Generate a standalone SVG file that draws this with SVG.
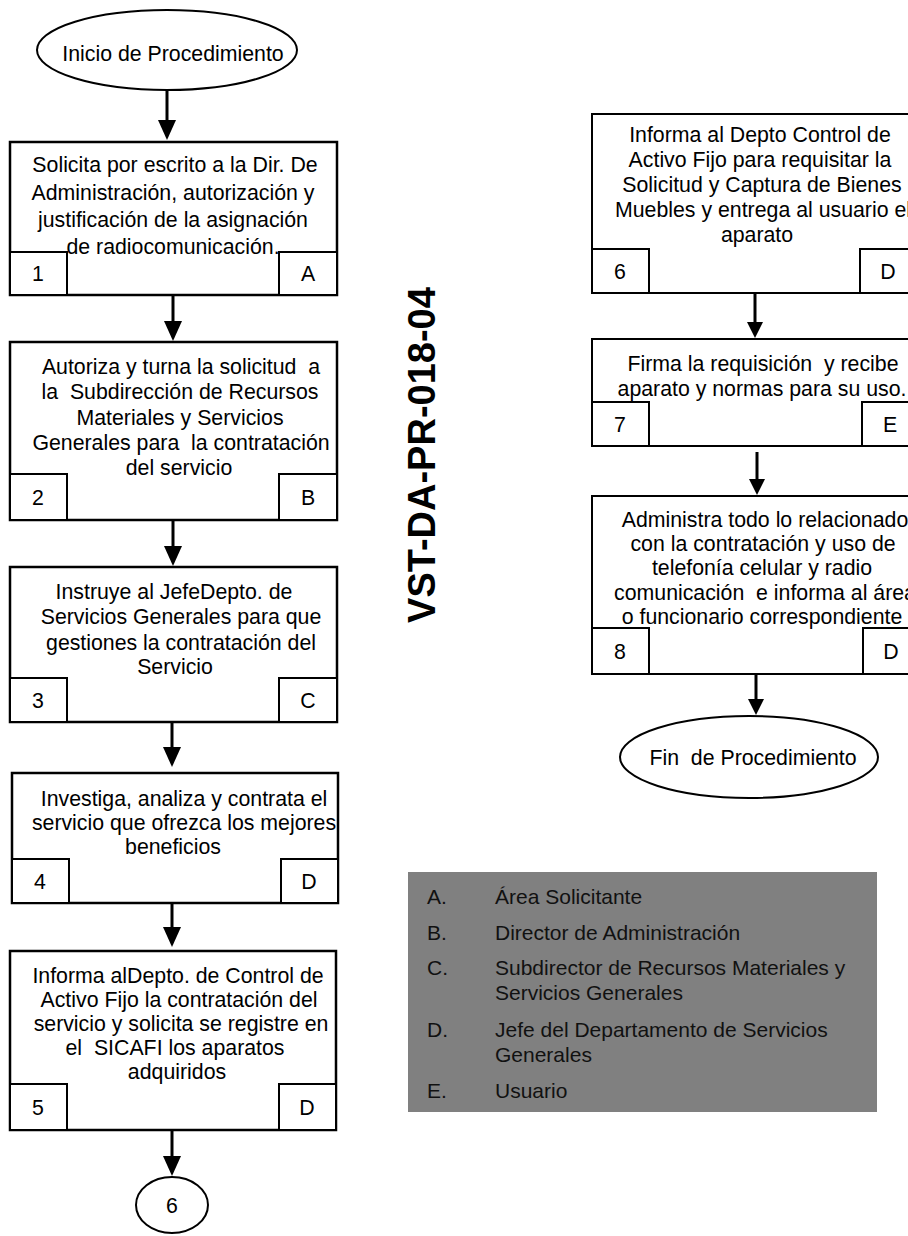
<svg xmlns="http://www.w3.org/2000/svg" width="908" height="1236" viewBox="0 0 908 1236">
<style>
.bx{fill:#fff;stroke:#000;stroke-width:2.5}
.bxr{fill:#fff;stroke:#000;stroke-width:2}
.sm{fill:#fff;stroke:#000;stroke-width:2}
.t{font-family:"Liberation Sans",Arial,sans-serif;font-size:21.3px;fill:#000;text-anchor:middle;white-space:pre}
.lg{font-family:"Liberation Sans",Arial,sans-serif;font-size:21px;fill:#111;white-space:pre}
.cn{stroke:#000;stroke-width:3;fill:none}
.code{font-family:"Liberation Sans",Arial,sans-serif;font-size:38px;font-weight:bold;fill:#000;text-anchor:middle}
</style>
<defs>
<marker id="arr" markerUnits="userSpaceOnUse" markerWidth="20" markerHeight="18" viewBox="0 0 20 18" refX="8" refY="9" orient="auto"><path d="M0,0 L20,9 L0,18 z" fill="#000"/></marker>
<marker id="arrS" markerUnits="userSpaceOnUse" markerWidth="16" markerHeight="16" viewBox="0 0 16 16" refX="6" refY="8" orient="auto"><path d="M0,0 L16,8 L0,16 z" fill="#000"/></marker>
</defs>
<rect width="908" height="1236" fill="#fff"/>

<g id="connectors">
<line class="cn" x1="167" y1="91" x2="167" y2="128" marker-end="url(#arr)"/>
<line class="cn" x1="173" y1="296" x2="173" y2="329" marker-end="url(#arr)"/>
<line class="cn" x1="173" y1="521" x2="173" y2="554" marker-end="url(#arr)"/>
<line class="cn" x1="172" y1="723" x2="172" y2="755" marker-end="url(#arr)"/>
<line class="cn" x1="172" y1="904" x2="172" y2="935" marker-end="url(#arr)"/>
<line class="cn" x1="172" y1="1131" x2="172" y2="1164" marker-end="url(#arr)"/>
<line class="cn" x1="755" y1="294" x2="755" y2="328" marker-end="url(#arrS)"/>
<line class="cn" x1="757" y1="452" x2="757" y2="485" marker-end="url(#arrS)"/>
<line class="cn" x1="756" y1="675" x2="756" y2="705" marker-end="url(#arrS)"/>
</g>

<g id="start">
<ellipse cx="167" cy="50" rx="130" ry="40" fill="#fff" stroke="#000" stroke-width="2"/>
<text class="t" x="173" y="61">Inicio de Procedimiento</text>
</g>

<g id="step1">
<rect class="bx" x="10" y="142" width="327" height="153"/>
<text class="t" x="175" y="172">Solicita por escrito a la Dir. De</text>
<text class="t" x="173" y="200">Administración, autorización y</text>
<text class="t" x="173" y="227">justificación de la asignación</text>
<text class="t" x="173" y="254">de radiocomunicación.</text>
<rect class="sm" x="10" y="252" width="57" height="43"/>
<rect class="sm" x="279" y="252" width="58" height="43"/>
<text class="t" x="38" y="281">1</text>
<text class="t" x="308" y="281">A</text>
</g>

<g id="step2">
<rect class="bx" x="10" y="342" width="327" height="178"/>
<text class="t" x="181" y="374">Autoriza y turna la solicitud  a</text>
<text class="t" x="180" y="399">la  Subdirección de Recursos</text>
<text class="t" x="180" y="425">Materiales y Servicios</text>
<text class="t" x="181" y="450">Generales para  la contratación</text>
<text class="t" x="179" y="475">del servicio</text>
<rect class="sm" x="10" y="474" width="57" height="46"/>
<rect class="sm" x="279" y="474" width="58" height="46"/>
<text class="t" x="38" y="505">2</text>
<text class="t" x="308" y="505">B</text>
</g>

<g id="step3">
<rect class="bx" x="10" y="567" width="327" height="155"/>
<text class="t" x="174" y="599">Instruye al JefeDepto. de</text>
<text class="t" x="181" y="624">Servicios Generales para que</text>
<text class="t" x="181" y="650">gestiones la contratación del</text>
<text class="t" x="175" y="674">Servicio</text>
<rect class="sm" x="10" y="678" width="57" height="44"/>
<rect class="sm" x="279" y="678" width="58" height="44"/>
<text class="t" x="38" y="708">3</text>
<text class="t" x="308" y="708">C</text>
</g>

<g id="step4">
<rect class="bx" x="12" y="773" width="326" height="130"/>
<text class="t" x="184" y="806">Investiga, analiza y contrata el</text>
<text class="t" x="184" y="830">servicio que ofrezca los mejores</text>
<text class="t" x="173" y="854">beneficios</text>
<rect class="sm" x="12" y="859" width="57" height="44"/>
<rect class="sm" x="281" y="859" width="57" height="44"/>
<text class="t" x="40" y="889">4</text>
<text class="t" x="309" y="889">D</text>
</g>

<g id="step5">
<rect class="bx" x="10" y="951" width="326" height="179"/>
<text class="t" x="178" y="983">Informa alDepto. de Control de</text>
<text class="t" x="179" y="1007">Activo Fijo la contratación del</text>
<text class="t" x="181" y="1031">servicio y solicita se registre en</text>
<text class="t" x="175" y="1055">el  SICAFI los aparatos</text>
<text class="t" x="177" y="1079">adquiridos</text>
<rect class="sm" x="10" y="1084" width="57" height="46"/>
<rect class="sm" x="279" y="1084" width="57" height="46"/>
<text class="t" x="38" y="1115">5</text>
<text class="t" x="307" y="1115">D</text>
</g>

<g id="connector6">
<ellipse cx="172" cy="1205" rx="36" ry="28" fill="#fff" stroke="#000" stroke-width="2"/>
<text class="t" x="172" y="1213">6</text>
</g>

<g id="code">
<text class="code" transform="translate(435,455) rotate(-90)">VST-DA-PR-018-04</text>
</g>

<g id="step6">
<rect class="bxr" x="592" y="114" width="328" height="179"/>
<text class="t" x="760" y="142">Informa al Depto Control de</text>
<text class="t" x="760" y="167">Activo Fijo para requisitar la</text>
<text class="t" x="762" y="192">Solicitud y Captura de Bienes</text>
<text class="t" x="763" y="217">Muebles y entrega al usuario el</text>
<text class="t" x="757" y="242">aparato</text>
<rect class="sm" x="592" y="249" width="57" height="44"/>
<rect class="sm" x="860" y="249" width="60" height="44"/>
<text class="t" x="620" y="279">6</text>
<text class="t" x="888" y="279">D</text>
</g>

<g id="step7">
<rect class="bxr" x="592" y="339" width="328" height="107"/>
<text class="t" x="763" y="371">Firma la requisición  y recibe</text>
<text class="t" x="762" y="396">aparato y normas para su uso.</text>
<rect class="sm" x="592" y="402" width="57" height="44"/>
<rect class="sm" x="862" y="402" width="58" height="44"/>
<text class="t" x="620" y="432">7</text>
<text class="t" x="890" y="432">E</text>
</g>

<g id="step8">
<rect class="bxr" x="592" y="496" width="328" height="178"/>
<text class="t" x="765" y="527">Administra todo lo relacionado</text>
<text class="t" x="763" y="551">con la contratación y uso de</text>
<text class="t" x="762" y="575">telefonía celular y radio</text>
<text class="t" x="765" y="600">comunicación  e informa al área</text>
<text class="t" x="762" y="624">o funcionario correspondiente</text>
<rect class="sm" x="592" y="628" width="57" height="46"/>
<rect class="sm" x="863" y="628" width="57" height="46"/>
<text class="t" x="620" y="659">8</text>
<text class="t" x="891" y="659">D</text>
</g>

<g id="end">
<ellipse cx="749" cy="757" rx="129" ry="41" fill="#fff" stroke="#000" stroke-width="2"/>
<text class="t" x="753" y="765">Fin  de Procedimiento</text>
</g>

<g id="legend">
<rect x="408" y="872" width="469" height="240" fill="#808080"/>
<text class="lg" x="427" y="904">A.</text>
<text class="lg" x="495" y="904">Área Solicitante</text>
<text class="lg" x="427" y="940">B.</text>
<text class="lg" x="495" y="940">Director de Administración</text>
<text class="lg" x="427" y="975">C.</text>
<text class="lg" x="495" y="975">Subdirector de Recursos Materiales y</text>
<text class="lg" x="495" y="1000">Servicios Generales</text>
<text class="lg" x="427" y="1037">D.</text>
<text class="lg" x="495" y="1037">Jefe del Departamento de Servicios</text>
<text class="lg" x="495" y="1062">Generales</text>
<text class="lg" x="427" y="1098">E.</text>
<text class="lg" x="495" y="1098">Usuario</text>
</g>
</svg>
